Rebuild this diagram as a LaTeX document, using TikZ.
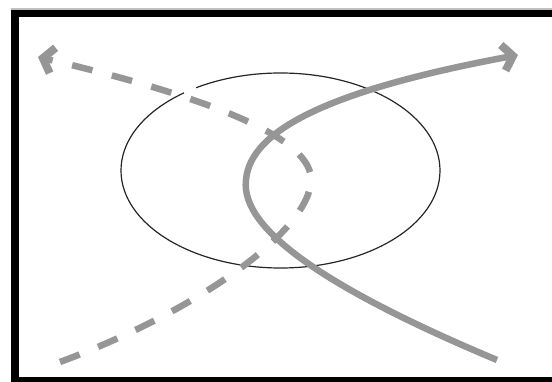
\documentclass[tikz,border=0pt]{standalone}
\usetikzlibrary{arrows.meta}
\definecolor{curvegray}{RGB}{150,150,150}
\tikzset{
  curve/.style={draw=curvegray, line width=6.5pt},
  dashcurve/.style={curve, dash pattern=on 21pt off 20pt},
  barb/.tip={Straight Barb[length=10pt,width=26pt,line width=8pt]},
  frame/.style={fill=black},
  oval/.style={draw=black!85, line width=1.2pt}
}
\begin{document}
\begin{tikzpicture}[x=1pt,y=-1pt]
  \fill[white] (0,0) rectangle (552,382);
  \useasboundingbox (0,0) rectangle (552,382);
  % frame
  \fill[black!25] (11,8.5) rectangle (552,10);
  \fill[frame] (11,10) rectangle (552,17);
  \fill[frame] (11,10) rectangle (19,382);
  \fill[frame] (11,377) rectangle (552,382);
  % ellipse
  \draw[oval] (280.5,170.5) ellipse [x radius=159.5, y radius=97.5];
  % small break of the ellipse where the dashed curve passes over it
  \draw[white, line width=3pt] (184,92.5) -- (196,88);
  % dashed curve (drawn from its lower end)
  \draw[dashcurve, -barb]
    (60,362) .. controls (200,310) and (310,230) .. (311,180)
    .. controls (312,140) and (220,100) .. (38,57);
  % solid curve
  \draw[curve, -barb]
    (497,360) .. controls (330,290) and (240,230) .. (246,180)
    .. controls (250,130) and (330,90) .. (518,55);
\end{tikzpicture}
\end{document}
